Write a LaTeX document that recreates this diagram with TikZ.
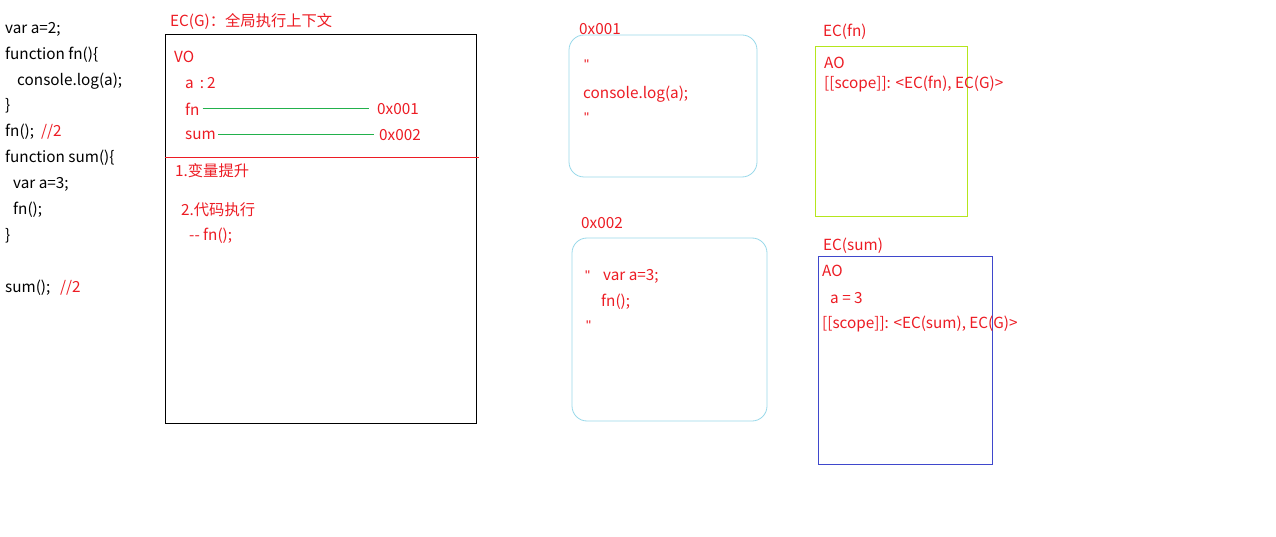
\documentclass[tikz,border=0pt]{standalone}
\usepackage{fontspec}
\setmainfont{Noto Sans CJK SC}
\newfontfamily\qfont{Liberation Sans}
\definecolor{pred}{HTML}{ED1C24}
\definecolor{pgreen}{HTML}{22B14C}
\definecolor{pturq}{HTML}{99D9EA}
\definecolor{plime}{HTML}{B5E61D}
\definecolor{pindigo}{HTML}{3F48CC}
\newcommand{\dq}{{\qfont\fontsize{14}{16}\selectfont\char"22\relax}}
\tikzset{
  txt/.style={anchor=west,inner sep=0pt,font=\fontsize{15.3}{17}\selectfont},
  rtxt/.style={txt,text=pred},
  ktxt/.style={txt,text=black},
  link/.style={draw=pgreen,line width=1pt},
  mem/.style={draw=pturq,line width=0.8pt,rounded corners=15pt},
}
\begin{document}
\begin{tikzpicture}[x=1pt,y=-1pt]
\useasboundingbox[fill=white] (0,0) rectangle (1276,537);
% code
\node[ktxt] (c1) at (5,29) {var a=2;};
\node[ktxt] (c2) at (5,55) {function fn()\{};
\node[ktxt] (c3) at (17,81) {console.log(a);};
\node[ktxt] (c4) at (5,106) {\}};
\node[ktxt] (c5) at (5,132) {fn();};
\node[rtxt] (c5c) at (41,132) {//2};
\node[ktxt] (c6) at (5,158) {function sum()\{};
\node[ktxt] (c7) at (13,184) {var a=3;};
\node[ktxt] (c8) at (13,210) {fn();};
\node[ktxt] (c9) at (5,236) {\}};
\node[ktxt] (c10) at (5,288) {sum();};
\node[rtxt] (c10c) at (60,288) {//2};
% EC(G)
\node[rtxt] (ecgt) at (170,21) {EC(G)：全局执行上下文};
\draw[black,line width=0.8pt] (165,34) rectangle (476,423);
\coordinate (sepL) at (165,157);
\coordinate (sepR) at (479,157);
\draw[pred,line width=0.6pt] (sepL) -- (sepR);
\node[rtxt] (vo) at (174,57) {VO};
\node[rtxt] (va) at (185,83) {a\hspace{6pt}:\hspace{3pt}2};
\node[rtxt] (vfn) at (185,109) {fn};
\node[rtxt] (vfnad) at (377,109) {0x001};
\node[rtxt] (vsum) at (185,135) {sum};
\node[rtxt] (vsumad) at (379,135) {0x002};
\draw[link] ([xshift=3pt]vfn.east) -- ([xshift=-8pt]vfnad.west);
\draw[link] ([xshift=2pt]vsum.east) -- ([xshift=-5pt]vsumad.west);
\node[rtxt] (s1) at (175,171) {1.变量提升};
\node[rtxt] (s2) at (181,210) {2.代码执行};
\node[rtxt] (s3) at (189,236) {-{}- fn();};
% 0x001
\node[rtxt] (h1) at (579,29) {0x001};
\draw[mem] (569,35) rectangle (757,177);
\node[rtxt] (h1a) at (584,65) {\dq};
\node[rtxt] (h1b) at (583,94) {console.log(a);};
\node[rtxt] (h1c) at (584,118) {\dq};
% 0x002
\node[rtxt] (h2) at (581,223) {0x002};
\draw[mem] (572,238) rectangle (767,421);
\node[rtxt] (h2a) at (585,276) {\dq\hspace{13pt}var a=3;};
\node[rtxt] (h2b) at (601,302) {fn();};
\node[rtxt] (h2c) at (586,326) {\dq};
% EC(fn)
\node[rtxt] (ecfn) at (823,32) {EC(fn)};
\draw[plime,line width=0.8pt] (815,46) rectangle (967,216);
\node[rtxt] (fnao) at (824,63) {AO};
\node[rtxt] (fnsc) at (824,84) {[[scope]]: <EC(fn), EC(G)>};
% EC(sum)
\node[rtxt] (ecsum) at (823,246) {EC(sum)};
\draw[pindigo,line width=0.8pt] (818,256) rectangle (992,464);
\node[rtxt] (sumao) at (822,271) {AO};
\node[rtxt] (suma) at (830,298) {a = 3};
\node[rtxt] (sumsc) at (822,324) {[[scope]]: <EC(sum), EC(G)>};
\end{tikzpicture}
\end{document}
